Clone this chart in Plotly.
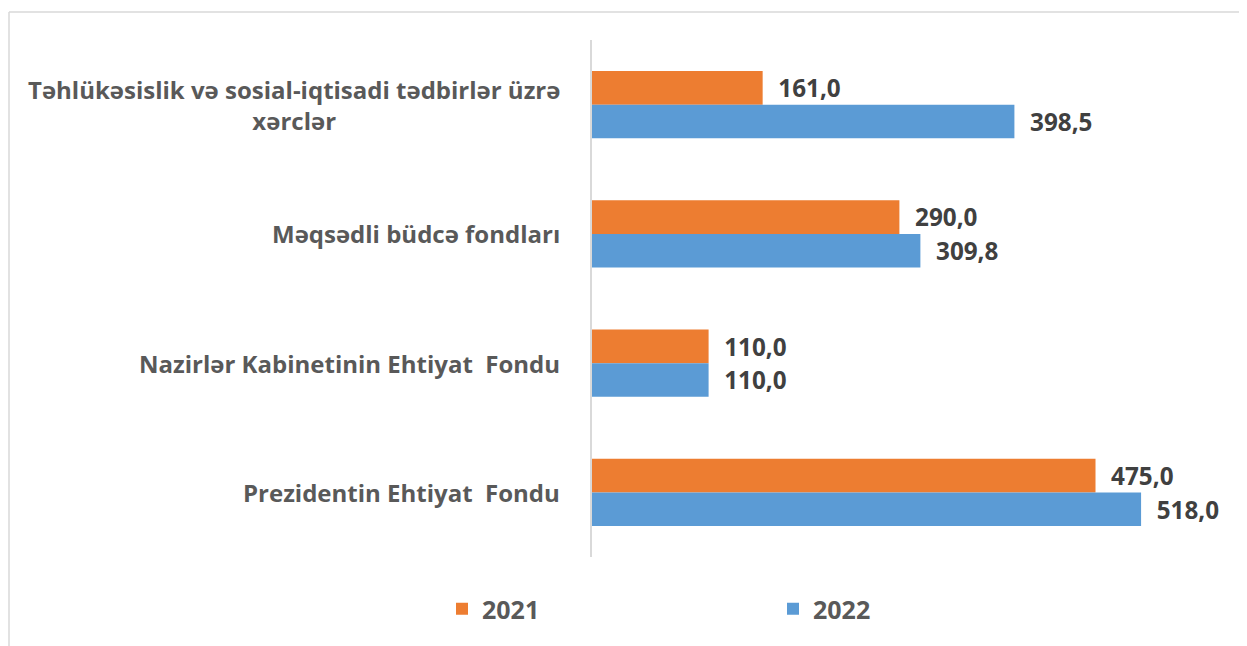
import plotly.graph_objects as go

categories = [
    "Təhlükəsislik və sosial-iqtisadi tədbirlər üzrə<br>xərclər",
    "Məqsədli büdcə fondları",
    "Nazirlər Kabinetinin Ehtiyat  Fondu",
    "Prezidentin Ehtiyat  Fondu",
]
years = ["2021", "2022"]
values_2021 = [161.0, 290.0, 110.0, 475.0]
values_2022 = [398.5, 309.8, 110.0, 518.0]
colors = ["#ED7D31", "#5B9BD5"]

OFF = 8  # page body margin
W, H = 1247 - OFF, 646 - OFF
L, R, T, B = 592 - OFF, 19, 40 - OFF, 89
pw = W - L - R
ph = H - T - B


def fmt(v):
    return "  " + f"{v:.1f}".replace(".", ",")


def px2x(p):
    return (p - OFF - L) / pw


def py2y(p):
    return (H - B - (p - OFF)) / ph


fig = go.Figure()
for name, vals, col in zip(years, [values_2021, values_2022], colors):
    fig.add_trace(go.Bar(
        y=categories, x=vals, orientation="h", name=name,
        marker=dict(color=col, line=dict(width=0)),
        text=[fmt(v) for v in vals], textposition="outside",
        textfont=dict(family="Open Sans", size=26, color="#404040", weight="bold"),
        cliponaxis=False,
    ))

annotations = []
for c in categories:
    annotations.append(dict(
        x=px2x(562), xref="paper", y=c, yref="y",
        text=c, showarrow=False, xanchor="right", yanchor="middle", align="center",
        font=dict(family="Open Sans", size=24, color="#595959", weight="bold"),
    ))

shapes = [
    dict(type="line", xref="paper", yref="paper", x0=px2x(OFF + 1), x1=px2x(1260), y0=py2y(12), y1=py2y(12),
         line=dict(color="#D9D9D9", width=1.5)),
    dict(type="line", xref="paper", yref="paper", x0=px2x(OFF + 1), x1=px2x(OFF + 1), y0=py2y(12), y1=py2y(660),
         line=dict(color="#D9D9D9", width=1.5)),
]

fig.update_layout(
    width=W, height=H,
    margin=dict(l=L, r=R, t=T, b=B),
    paper_bgcolor="white", plot_bgcolor="white",
    barmode="group", bargap=0.48, bargroupgap=0,
    xaxis=dict(range=[0, 600], visible=False, showgrid=False, zeroline=False),
    yaxis=dict(autorange="reversed", showticklabels=False, showgrid=False, zeroline=False,
               showline=True, linecolor="#D9D9D9", linewidth=1.5, ticks=""),
    showlegend=True,
    legend=dict(orientation="h", x=px2x(442), xanchor="left", y=py2y(609), yanchor="middle",
                entrywidth=286, entrywidthmode="pixels",
                font=dict(family="Open Sans", size=25, color="#595959", weight="bold")),
    annotations=annotations,
    shapes=shapes,
)

fig.write_html("out.html")
